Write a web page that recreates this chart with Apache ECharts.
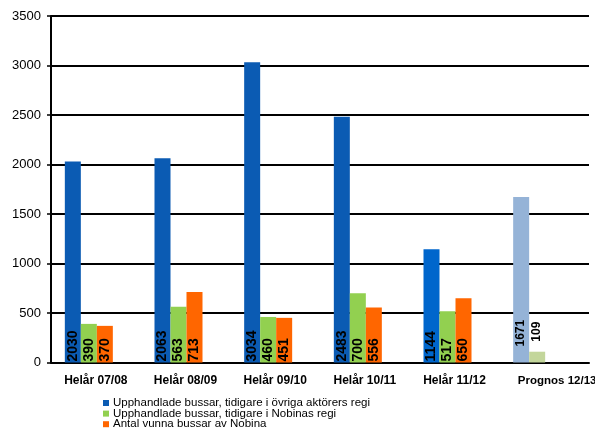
<!DOCTYPE html>
<html>
<head>
<meta charset="utf-8">
<script src="https://cdn.jsdelivr.net/npm/echarts@6/dist/echarts.min.js"></script>
<style>
html,body{margin:0;padding:0;background:#fff;}
#c{width:595px;height:437px;}
</style>
</head>
<body>
<div id="c"></div>
<script>
var categories = ['Helår 07/08', 'Helår 08/09', 'Helår 09/10', 'Helår 10/11', 'Helår 11/12', 'Prognos 12/13'];
var seriesNames = [
  'Upphandlade bussar, tidigare i övriga aktörers regi',
  'Upphandlade bussar, tidigare i Nobinas regi',
  'Antal vunna bussar av Nobina'
];
var blueValues = [2030, 2063, 3034, 2483, 1144, 1671];
var greenValues = [390, 563, 460, 700, 517, 109];
var orangeValues = [370, 713, 451, 556, 650, null];
var yTicks = [0, 500, 1000, 1500, 2000, 2500, 3000, 3500];

var blueColors = ['#0B5BB3', '#0B5BB3', '#0B5BB3', '#0B5BB3', '#0066CC', '#95B3D7'];
var greenColors = ['#92D050', '#92D050', '#92D050', '#92D050', '#92D050', '#C3D69B'];
var orangeColor = '#FF6600';
var legendColors = ['#0B5BB3', '#92D050', '#FF6600'];

var FONT = '"Liberation Sans", Arial, sans-serif';

function baseLabel() {
  return {
    show: true,
    position: 'insideBottom',
    distance: 1,
    rotate: 90,
    align: 'left',
    verticalAlign: 'middle',
    color: '#000',
    fontFamily: FONT,
    fontWeight: 'bold',
    fontSize: 14
  };
}

function buildData(values, colors, isGreen) {
  return values.map(function (v, i) {
    if (v === null) return null;
    var item = { value: v, itemStyle: { color: Array.isArray(colors) ? colors[i] : colors } };
    if (i === 5) {
      var lab = baseLabel();
      lab.fontSize = 12;
      if (isGreen) {
        lab.position = 'top';
        lab.distance = 10;
      } else {
        lab.distance = 16;
      }
      item.label = lab;
    }
    return item;
  });
}

function makeLegend(i) {
  return {
    data: [seriesNames[i]],
    orient: 'horizontal',
    left: 103,
    top: 397 + i * 10.6,
    itemWidth: 6,
    itemHeight: 6,
    itemGap: 0,
    padding: 0,
    icon: 'rect',
    textStyle: { fontFamily: FONT, fontSize: 11.5, color: '#000', lineHeight: 10, padding: [0, 0, 0, -1] }
  };
}

var chart = echarts.init(document.getElementById('c'), null, { renderer: 'canvas' });

chart.setOption({
  animation: false,
  backgroundColor: '#fff',
  textStyle: { fontFamily: FONT },
  grid: { left: 51, right: 6, top: 16, bottom: 74.5, containLabel: false, outerBoundsMode: 'none' },
  legend: [makeLegend(0), makeLegend(1), makeLegend(2)],
  xAxis: {
    type: 'category',
    data: categories,
    axisLine: { show: true, lineStyle: { color: '#000', width: 2 } },
    axisTick: { show: false },
    axisLabel: {
      interval: 0,
      margin: 12,
      color: '#000',
      fontFamily: FONT,
      fontWeight: 'bold',
      fontSize: 12,
      formatter: function (v, i) { return i === 5 ? '{p|' + v + '}' : v; },
      rich: { p: { padding: [0, 0, 0, 26], fontWeight: 'bold', fontSize: 11.5, fontFamily: FONT, color: '#000' } }
    }
  },
  yAxis: {
    type: 'value',
    min: yTicks[0],
    max: yTicks[yTicks.length - 1],
    interval: 500,
    axisLine: { show: true, lineStyle: { color: '#000', width: 2 } },
    axisTick: { show: true, length: 4, lineStyle: { color: '#000', width: 1.5 } },
    axisLabel: { color: '#000', fontFamily: FONT, fontSize: 13, margin: 10, formatter: function (v) { return String(v); } },
    splitLine: { show: true, lineStyle: { color: '#000', width: 1.8 } }
  },
  series: [
    {
      name: seriesNames[0], type: 'bar', barWidth: 16, barGap: '0%',
      itemStyle: { color: legendColors[0] },
      label: baseLabel(),
      data: buildData(blueValues, blueColors, false)
    },
    {
      name: seriesNames[1], type: 'bar', barWidth: 16, barGap: '0%',
      itemStyle: { color: legendColors[1] },
      label: baseLabel(),
      data: buildData(greenValues, greenColors, true)
    },
    {
      name: seriesNames[2], type: 'bar', barWidth: 16, barGap: '0%',
      itemStyle: { color: legendColors[2] },
      label: baseLabel(),
      data: buildData(orangeValues, orangeColor, false)
    },
    {
      name: 'spacer', type: 'bar', barWidth: 14, barGap: '0%',
      data: [], silent: true
    }
  ]
});
</script>
</body>
</html>
